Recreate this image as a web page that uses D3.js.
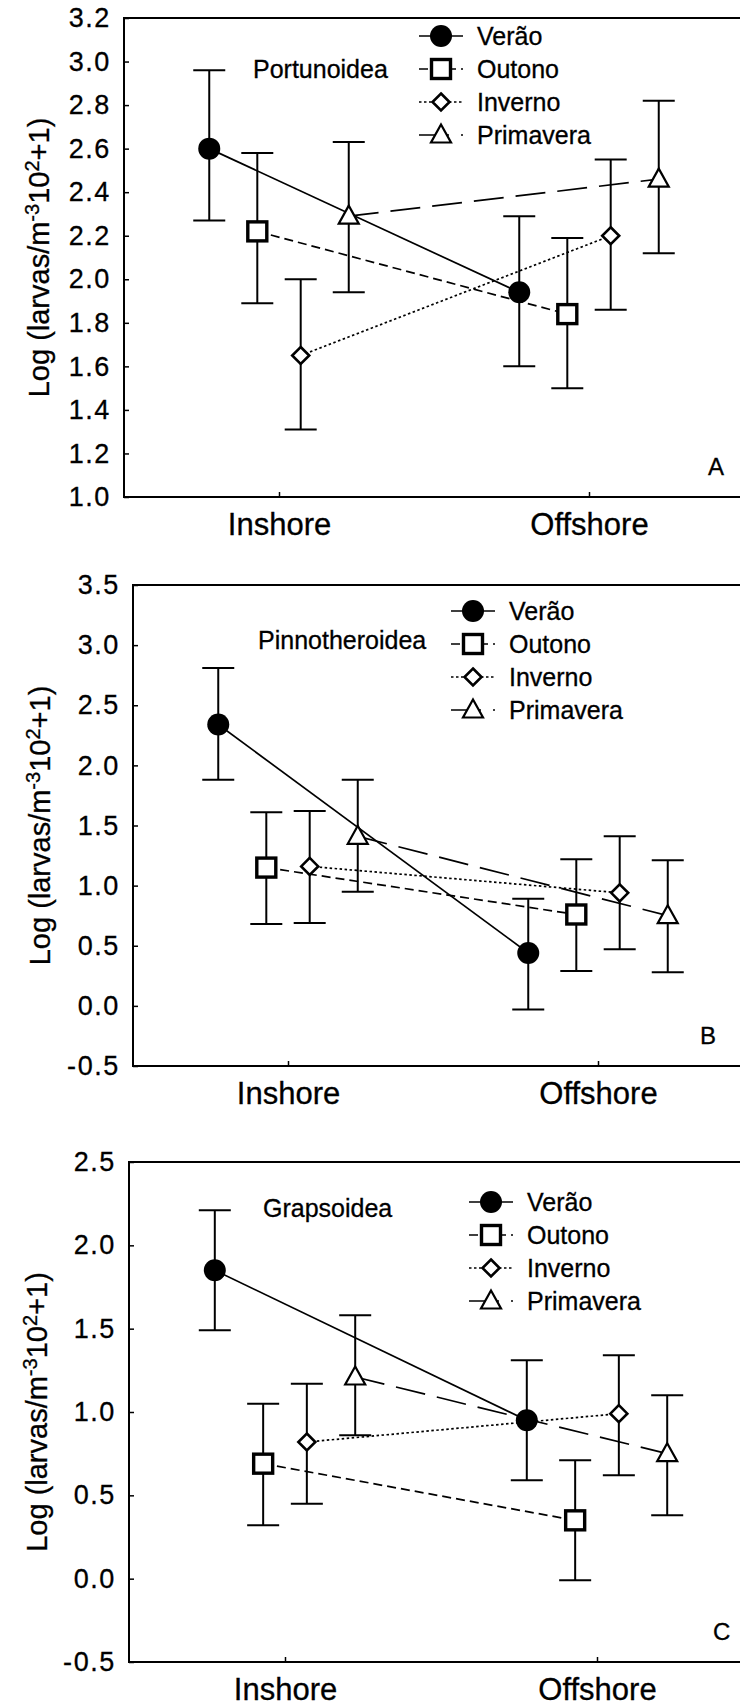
<!DOCTYPE html>
<html>
<head>
<meta charset="utf-8">
<script src="https://cdn.jsdelivr.net/npm/d3@7"></script>
<style>
  html, body { margin: 0; padding: 0; background: #fff; }
  svg { display: block; }
  text { font-family: "Liberation Sans", Arial, Helvetica, sans-serif; fill: #000; stroke: #000; stroke-width: 0.3; }
</style>
</head>
<body>
<svg id="chart" width="740" height="1706"></svg>
<script>
// ---------------- DATA ----------------
const categories = ["Inshore", "Offshore"];
const seasons = ["Verão", "Outono", "Inverno", "Primavera"];
const panelTitles = ["Portunoidea", "Pinnotheroidea", "Grapsoidea"];
const panelLetters = ["A", "B", "C"];

// means per season: [Inshore, Offshore]
const portMean = [[2.60, 1.94], [2.22, 1.84], [1.65, 2.20], [2.29, 2.46]];
const portLow  = [[2.27, 1.60], [1.89, 1.50], [1.31, 1.86], [1.94, 2.12]];
const portHigh = [[2.96, 2.29], [2.58, 2.19], [2.00, 2.55], [2.63, 2.82]];

const pinnMean = [[2.34, 0.44], [1.15, 0.76], [1.16, 0.94], [1.41, 0.75]];
const pinnLow  = [[1.88, -0.03], [0.68, 0.29], [0.69, 0.47], [0.95, 0.28]];
const pinnHigh = [[2.81, 0.89], [1.61, 1.22], [1.62, 1.41], [1.88, 1.21]];

const grapMean = [[1.85, 0.95], [0.69, 0.35], [0.82, 0.99], [1.21, 0.75]];
const grapLow  = [[1.49, 0.59], [0.32, -0.01], [0.45, 0.62], [0.86, 0.38]];
const grapHigh = [[2.21, 1.31], [1.05, 0.71], [1.17, 1.34], [1.58, 1.10]];

const portTicks = [1.0, 1.2, 1.4, 1.6, 1.8, 2.0, 2.2, 2.4, 2.6, 2.8, 3.0, 3.2];
const pinnTicks = [-0.5, 0.0, 0.5, 1.0, 1.5, 2.0, 2.5, 3.0, 3.5];
const grapTicks = [-0.5, 0.0, 0.5, 1.0, 1.5, 2.0, 2.5];

// ---------------- LAYOUT / STYLE ----------------
const svg = d3.select("#chart");
const seasonOffset = [-0.225, -0.07, 0.07, 0.225];
const dashes = [null, "9,5", "2.5,2.5", "30,12"];

const panels = [
  { mean: portMean, low: portLow, high: portHigh, ticks: portTicks,
    left: 124, top: 18, bottom: 497, span: 620,
    legX: 441, legY: 36, legStep: 33, titleX: 253, titleY: 78,
    letterX: 708, ylabX: 49 },
  { mean: pinnMean, low: pinnLow, high: pinnHigh, ticks: pinnTicks,
    left: 133, top: 585, bottom: 1066, span: 620,
    legX: 473, legY: 611, legStep: 33, titleX: 258, titleY: 649,
    letterX: 700, ylabX: 50 },
  { mean: grapMean, low: grapLow, high: grapHigh, ticks: grapTicks,
    left: 129, top: 1162, bottom: 1662, span: 624,
    legX: 491, legY: 1202, legStep: 33, titleX: 263, titleY: 1217,
    letterX: 713, ylabX: 47 }
];

function drawMarker(g, s, x, y) {
  if (s === 0) {
    g.append("circle").attr("cx", x).attr("cy", y).attr("r", 11).attr("fill", "#000");
  } else if (s === 1) {
    g.append("rect").attr("x", x - 9.5).attr("y", y - 9.5).attr("width", 19).attr("height", 19)
      .attr("fill", "#fff").attr("stroke", "#000").attr("stroke-width", 3.4);
  } else if (s === 2) {
    const h = 8.5;
    g.append("path").attr("d", `M${x},${y - h}L${x + h},${y}L${x},${y + h}L${x - h},${y}Z`)
      .attr("fill", "#fff").attr("stroke", "#000").attr("stroke-width", 2.6);
  } else {
    g.append("path").attr("d", `M${x},${y - 10.5}L${x + 10},${y + 7.5}L${x - 10},${y + 7.5}Z`)
      .attr("fill", "#fff").attr("stroke", "#000").attr("stroke-width", 2.2);
  }
}

panels.forEach((p, pi) => {
  const g = svg.append("g");
  const x = d3.scaleLinear().domain([-0.5, 1.5]).range([p.left, p.left + p.span]);
  const y = d3.scaleLinear().domain([p.ticks[0], p.ticks[p.ticks.length - 1]]).range([p.bottom, p.top]);

  // frame
  g.append("path")
    .attr("d", `M${p.left + p.span + 5},${p.top}H${p.left}V${p.bottom}H${p.left + p.span + 5}`)
    .attr("fill", "none").attr("stroke", "#000").attr("stroke-width", 2);

  // y axis (ticks inward)
  const yAxis = d3.axisLeft(y).tickValues(p.ticks).tickFormat(d => d.toFixed(1))
    .tickSizeInner(-5).tickSizeOuter(0).tickPadding(13);
  const ya = g.append("g").attr("transform", `translate(${p.left},0)`).call(yAxis);
  ya.select(".domain").remove();
  ya.selectAll("line").attr("stroke", "#000").attr("stroke-width", 1.5);
  ya.selectAll("text").attr("font-size", 27).attr("letter-spacing", 1.6)
    .style("font-family", '"Liberation Sans", Arial, sans-serif').attr("fill", "#000");

  // x axis (ticks inward)
  const xAxis = d3.axisBottom(x).tickValues([0, 1]).tickFormat(i => categories[i])
    .tickSizeInner(-5).tickSizeOuter(0).tickPadding(16);
  const xa = g.append("g").attr("transform", `translate(0,${p.bottom})`).call(xAxis);
  xa.select(".domain").remove();
  xa.selectAll("line").attr("stroke", "#000").attr("stroke-width", 1.5);
  xa.selectAll("text").attr("font-size", 31)
    .style("font-family", '"Liberation Sans", Arial, sans-serif').attr("fill", "#000");

  // y axis title
  const yl = g.append("text")
    .attr("transform", `translate(${p.ylabX},${(p.top + p.bottom) / 2}) rotate(-90)`)
    .attr("text-anchor", "middle").attr("font-size", 29);
  yl.append("tspan").text("Log (larvas/m");
  yl.append("tspan").attr("font-size", 20).attr("baseline-shift", "48%").text("-3");
  yl.append("tspan").text("10");
  yl.append("tspan").attr("font-size", 20).attr("baseline-shift", "48%").text("2");
  yl.append("tspan").text("+1)");

  // panel title & letter
  g.append("text").attr("x", p.titleX).attr("y", p.titleY).attr("font-size", 25).text(panelTitles[pi]);
  g.append("text").attr("x", p.letterX).attr("y", p.bottom - 22).attr("font-size", 24).text(panelLetters[pi]);

  // error bars
  seasons.forEach((s, si) => {
    [0, 1].forEach(ci => {
      const cx = x(ci + seasonOffset[si]);
      const y0 = y(p.low[si][ci]), y1 = y(p.high[si][ci]);
      g.append("line").attr("x1", cx).attr("x2", cx).attr("y1", y0).attr("y2", y1)
        .attr("stroke", "#000").attr("stroke-width", 2);
      [y0, y1].forEach(yy => g.append("line").attr("x1", cx - 16).attr("x2", cx + 16)
        .attr("y1", yy).attr("y2", yy).attr("stroke", "#000").attr("stroke-width", 2));
    });
  });

  // connecting lines
  const line = d3.line().x(d => x(d.c + d.o)).y(d => y(d.v));
  seasons.forEach((s, si) => {
    const pts = [0, 1].map(ci => ({ c: ci, o: seasonOffset[si], v: p.mean[si][ci] }));
    g.append("path").attr("d", line(pts)).attr("fill", "none").attr("stroke", "#000")
      .attr("stroke-width", 1.7).attr("stroke-dasharray", dashes[si]);
  });

  // markers
  seasons.forEach((s, si) => {
    [0, 1].forEach(ci => drawMarker(g, si, x(ci + seasonOffset[si]), y(p.mean[si][ci])));
  });

  // legend
  seasons.forEach((s, si) => {
    const ly = p.legY + si * p.legStep;
    g.append("line").attr("x1", p.legX - 22).attr("x2", p.legX + 22).attr("y1", ly).attr("y2", ly)
      .attr("stroke", "#000").attr("stroke-width", 1.7).attr("stroke-dasharray", dashes[si]);
    drawMarker(g, si, p.legX, ly);
    g.append("text").attr("x", p.legX + 36).attr("y", ly).attr("dy", "0.36em")
      .attr("font-size", 25).text(s);
  });
});
</script>
</body>
</html>
